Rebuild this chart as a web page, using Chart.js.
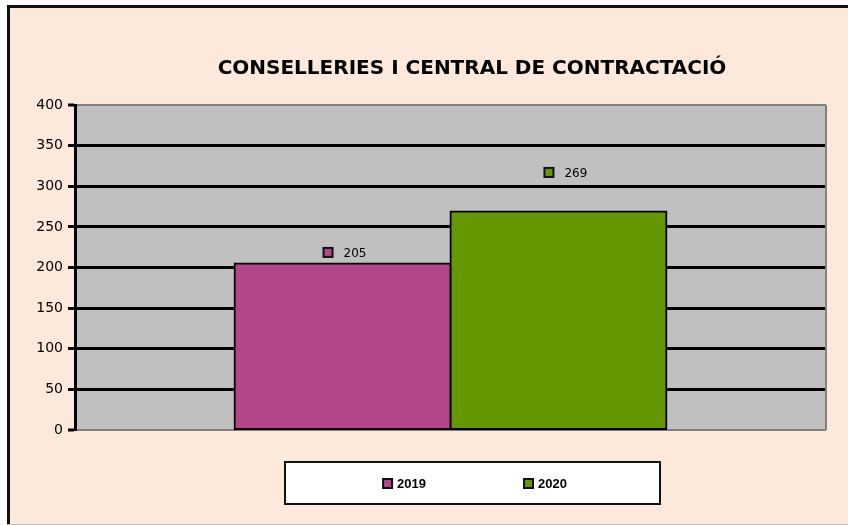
<!DOCTYPE html>
<html>
<head>
<meta charset="utf-8">
<script src="https://cdn.jsdelivr.net/npm/chart.js@4/dist/chart.umd.min.js"></script>
<style>
	html, body { margin: 0; padding: 0; background: #ffffff; }
	canvas { display: block; }
</style>
</head>
<body>
<canvas id="contracts" width="848" height="525"></canvas>
<script>
const chartTitle = 'CONSELLERIES I CENTRAL DE CONTRACTACIÓ';
const categories = [''];
const seriesNames = ['2019', '2020'];
const values2019 = [205];
const values2020 = [269];
const seriesColors = ['#B4478A', '#659700'];
const yMax = 400;
const yStep = 50;

// page background, outer frame and plot fill
const backdrop = {
	id: 'backdrop',
	beforeDraw(chart) {
		const ctx = chart.ctx;
		const a = chart.chartArea;
		ctx.save();
		ctx.fillStyle = '#ffffff';
		ctx.fillRect(0, 0, chart.width, chart.height);
		ctx.fillStyle = '#FCE9DB';
		ctx.fillRect(7, 5, chart.width - 7, chart.height - 6);
		ctx.fillStyle = '#111111';
		ctx.fillRect(7, 5, chart.width - 7, 3);
		ctx.fillRect(7, 5, 3, chart.height - 5);
		ctx.fillStyle = '#BDBDBD';
		ctx.fillRect(7, chart.height - 1, chart.width - 7, 1);
		ctx.fillStyle = '#C0C0C0';
		ctx.fillRect(a.left, a.top, a.right - a.left, a.bottom - a.top);
		ctx.restore();
	},
	beforeDatasetsDraw(chart) {
		const ctx = chart.ctx;
		const a = chart.chartArea;
		ctx.save();
		ctx.strokeStyle = '#808080';
		ctx.lineWidth = 2;
		ctx.beginPath();
		ctx.moveTo(a.right, a.top);
		ctx.lineTo(a.right, a.bottom);
		ctx.stroke();
		ctx.restore();
	}
};

const headline = {
	id: 'headline',
	afterDraw(chart, args, opts) {
		const ctx = chart.ctx;
		ctx.save();
		ctx.font = 'bold 20px "DejaVu Sans"';
		ctx.fillStyle = '#000000';
		ctx.textAlign = 'center';
		ctx.textBaseline = 'middle';
		ctx.fillText(opts.text, 472, 69);
		ctx.restore();
	}
};

function drawKey(ctx, x, cy, color) {
	ctx.fillStyle = color;
	ctx.fillRect(x, cy - 4.5, 9, 9);
	ctx.strokeStyle = '#111111';
	ctx.lineWidth = 2;
	ctx.strokeRect(x, cy - 4.5, 9, 9);
}

// value labels above each bar, with the series key
const barLabels = {
	id: 'barLabels',
	afterDatasetsDraw(chart, args, opts) {
		const ctx = chart.ctx;
		ctx.save();
		ctx.font = '12px "DejaVu Sans"';
		ctx.textBaseline = 'middle';
		ctx.textAlign = 'left';
		chart.data.datasets.forEach((ds, i) => {
			chart.getDatasetMeta(i).data.forEach((bar, j) => {
				const cy = bar.y - opts.lift[i];
				const tx = bar.x + opts.shift[i];
				drawKey(ctx, tx - 20, cy, ds.backgroundColor);
				ctx.fillStyle = '#000000';
				ctx.fillText(String(ds.data[j]), tx, cy + 1);
			});
		});
		ctx.restore();
	}
};

// boxed legend under the plot
const boxLegend = {
	id: 'boxLegend',
	afterDraw(chart) {
		const ctx = chart.ctx;
		const box = { left: 285, top: 462, right: 660, bottom: 504 };
		ctx.save();
		ctx.fillStyle = '#ffffff';
		ctx.fillRect(box.left, box.top, box.right - box.left, box.bottom - box.top);
		ctx.strokeStyle = '#111111';
		ctx.lineWidth = 2;
		ctx.strokeRect(box.left, box.top, box.right - box.left, box.bottom - box.top);

		ctx.font = 'bold 13px "Liberation Sans"';
		ctx.textBaseline = 'middle';
		const gap = 97;
		const items = chart.data.datasets.map(ds => ({
			label: ds.label,
			color: ds.backgroundColor,
			w: 15 + ctx.measureText(ds.label).width
		}));
		const total = items.reduce((s, it) => s + it.w, 0) + gap * (items.length - 1);
		let x = (box.left + box.right) / 2 + 2 - total / 2;
		const cy = (box.top + box.bottom) / 2 + 0.5;
		items.forEach(it => {
			drawKey(ctx, x + 1, cy, it.color);
			ctx.fillStyle = '#000000';
			ctx.fillText(it.label, x + 15, cy + 1);
			x += it.w + gap;
		});
		ctx.restore();
	}
};

const edgeGray = ctx => (ctx.tick.value === 0 || ctx.tick.value === yMax) ? '#808080' : '#000000';

const contractsConfig = {
	type: 'bar',
	data: {
		labels: categories,
		datasets: [{
			label: seriesNames[0],
			data: values2019,
			backgroundColor: seriesColors[0],
			borderColor: '#000000',
			borderWidth: 2,
			borderSkipped: false,
			inflateAmount: 1,
		}, {
			label: seriesNames[1],
			data: values2020,
			backgroundColor: seriesColors[1],
			borderColor: '#000000',
			borderWidth: 2,
			borderSkipped: false,
			inflateAmount: 1,
		}]
	},
	options: {
		responsive: false,
		animation: false,
		layout: {
			padding: { top: 105, right: 22, bottom: 95, left: 0 },
		},
		datasets: {
			bar: {
				categoryPercentage: 0.575,
				barPercentage: 1,
			}
		},
		scales: {
			x: {
				display: false,
			},
			y: {
				min: 0,
				max: yMax,
				afterFit: scale => { scale.width = 75; },
				ticks: {
					stepSize: yStep,
					color: '#000000',
					padding: 5,
					font: { family: '"DejaVu Sans"', size: 14 },
				},
				grid: {
					color: edgeGray,
					lineWidth: ctx => (ctx.tick.value === 0 || ctx.tick.value === yMax) ? 2 : 3,
					tickColor: '#000000',
					tickWidth: 3,
					tickLength: 7,
				},
				border: {
					color: '#000000',
					width: 3,
				}
			}
		},
		plugins: {
			legend: { display: false },
			title: { display: false },
			tooltip: { enabled: false },
			headline: { text: chartTitle },
			barLabels: { lift: [11, 39], shift: [1, 6] },
		}
	},
	plugins: [backdrop, headline, barLabels, boxLegend],
};

const contractsCtx = document.getElementById('contracts');
const contractsPlot = new Chart(contractsCtx, contractsConfig);
</script>
</body>
</html>
